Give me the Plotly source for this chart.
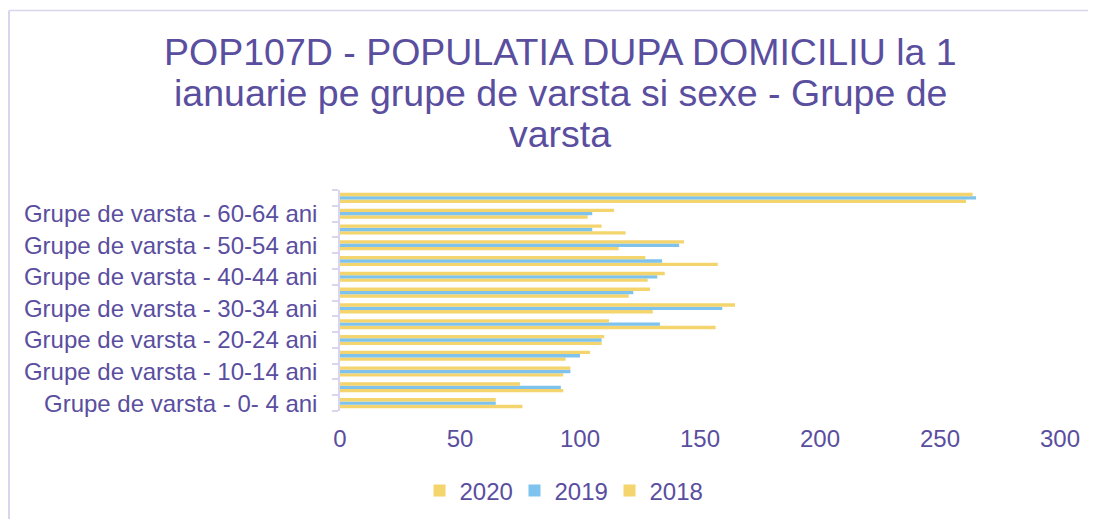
import plotly.graph_objects as go

categories = [
    "Grupe de varsta - 0- 4 ani",
    "Grupe de varsta - 5- 9 ani",
    "Grupe de varsta - 10-14 ani",
    "Grupe de varsta - 15-19 ani",
    "Grupe de varsta - 20-24 ani",
    "Grupe de varsta - 25-29 ani",
    "Grupe de varsta - 30-34 ani",
    "Grupe de varsta - 35-39 ani",
    "Grupe de varsta - 40-44 ani",
    "Grupe de varsta - 45-49 ani",
    "Grupe de varsta - 50-54 ani",
    "Grupe de varsta - 55-59 ani",
    "Grupe de varsta - 60-64 ani",
    "Grupe de varsta - 65 ani si peste",
]
tick_labels = [c if i % 2 == 0 else "" for i, c in enumerate(categories)]

values_2020 = [76, 93, 93, 94, 109, 156.5, 130.3, 120.3, 128.2, 157.4, 116.1, 119, 103.2, 260.8]
values_2019 = [64.9, 92, 96, 100, 109, 133.3, 159.3, 122.2, 132.2, 134.2, 141.3, 105.1, 105.1, 265]
values_2018 = [64.9, 75, 96, 104.2, 110.1, 112.1, 164.6, 129.2, 135.3, 127.2, 143.3, 109, 114.2, 263.6]

series = [("2020", values_2020, "#F4D46C"), ("2019", values_2019, "#7DC3EE"), ("2018", values_2018, "#F4D46C")]

TXT = "#5A4E9F"
AX = "#D9D5EC"
FONT = "Liberation Sans, Arial, sans-serif"

fig = go.Figure()
for name, vals, col in series:
    fig.add_trace(go.Bar(y=categories, x=vals, name=name, orientation="h",
                         marker=dict(color=col, line=dict(width=0))))

# page is offset by the 8px body margin; coordinates below are figure pixels
W, H = 1096, 519
L, R, T, B = 332, 44, 182, 116
pw, ph = W - L - R, H - T - B

def px_x(p):
    return (p - L) / pw

def px_y(p):
    return (H - B - p) / ph

fig.update_layout(
    width=W, height=H,
    margin=dict(l=L, r=R, t=T, b=B),
    paper_bgcolor="white", plot_bgcolor="white",
    barmode="group", bargap=0.36, bargroupgap=0,
    font=dict(family=FONT, color=TXT, size=24),
    showlegend=True,
    legend=dict(orientation="h", x=px_x(554), xanchor="center", y=px_y(483), yanchor="middle",
                font=dict(size=24, color=TXT), itemwidth=30, traceorder="normal",
                entrywidth=50, entrywidthmode="pixels"),
    xaxis=dict(range=[0, 300], dtick=50, showgrid=False, zeroline=False, showline=False,
               ticks="", tickfont=dict(size=24, color=TXT), ticklabelstandoff=11),
    yaxis=dict(type="category", categoryorder="array", categoryarray=categories,
               tickmode="array", tickvals=categories, ticktext=tick_labels,
               tickson="boundaries", ticks="outside", ticklen=6, tickcolor=AX, tickwidth=1.5,
               showline=True, linecolor=AX, linewidth=1.5, showgrid=False,
               tickfont=dict(size=24, color=TXT), ticklabelstandoff=16),
)

title_lines = ["POP107D - POPULATIA DUPA DOMICILIU la 1",
               "ianuarie pe grupe de varsta si sexe - Grupe de",
               "varsta"]
for i, line in enumerate(title_lines):
    fig.add_annotation(text=line, xref="paper", yref="paper", x=px_x(552), y=px_y(44 + 41 * i),
                       xanchor="center", yanchor="middle", showarrow=False,
                       font=dict(size=37.5, color=TXT, family=FONT))

# chart frame: only left and top edges are visible in the reference crop
fig.add_shape(type="line", xref="paper", yref="paper",
              x0=px_x(1), x1=px_x(1), y0=px_y(530), y1=px_y(2.5),
              line=dict(color=AX, width=2), layer="below")
fig.add_shape(type="line", xref="paper", yref="paper",
              x0=px_x(1), x1=px_x(1200), y0=px_y(2.5), y1=px_y(2.5),
              line=dict(color=AX, width=1.5), layer="below")

fig.write_html("out.html")
